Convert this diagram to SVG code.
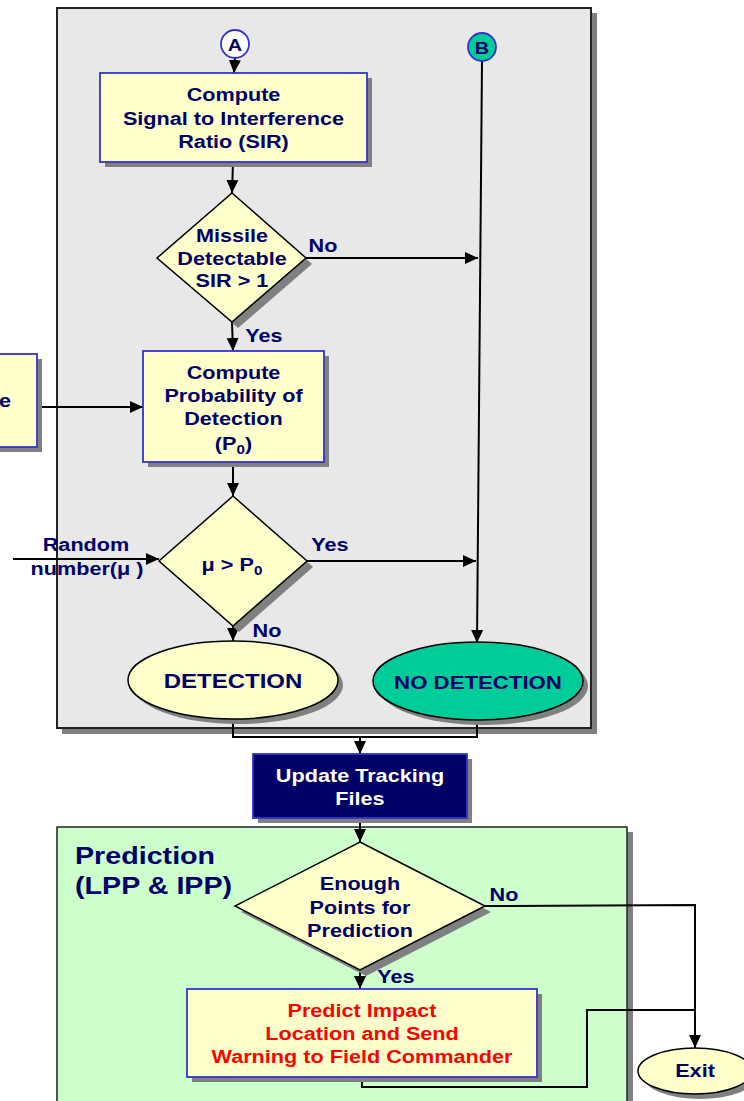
<svg xmlns="http://www.w3.org/2000/svg" width="744" height="1101" viewBox="0 0 744 1101">
  <defs>
    <marker id="arrow" markerUnits="userSpaceOnUse" markerWidth="14" markerHeight="12" refX="13" refY="6" orient="auto">
      <path d="M0,0 L13,6 L0,12 Z" fill="#000"/>
    </marker>
  </defs>
  <style>
    .panel { fill: #E8E8E8; stroke: #222; stroke-width: 2; }
    .green { fill: #CCFFCC; stroke: #222; stroke-width: 1.5; }
    .shadow { fill: #808080; }
    .box { fill: #FFFFCC; stroke: #3333CC; stroke-width: 1.8; }
    .dark { fill: #000066; stroke: #3333CC; stroke-width: 1.8; }
    .dia { fill: #FFFFCC; stroke: #000; stroke-width: 1.5; }
    .ell { fill: #FFFFCC; stroke: #000; stroke-width: 1.5; }
    .teal { fill: #00CC99; stroke: #000; stroke-width: 1.5; }
    .conn { fill: none; stroke: #000; stroke-width: 2; }
    .t { font-family: "Liberation Sans", Arial, sans-serif; font-weight: bold; font-size: 18.5px; fill: #000066; text-anchor: middle; }
    .w { fill: #FFFFFF; }
    .r { fill: #FF0000; }
    .l { text-anchor: start; }
    .big { font-size: 24.5px; }
  </style>

  <!-- detection panel -->
  <g id="detection-panel">
    <rect class="shadow" x="62" y="13" width="535" height="721"/>
    <rect class="panel" x="57" y="8" width="534" height="720"/>
  </g>

  <!-- prediction panel -->
  <g id="prediction-panel">
    <rect class="shadow" x="62" y="832" width="571" height="280"/>
    <rect class="green" x="57" y="827" width="570" height="280"/>
    <g transform="translate(75,0) scale(1.17,1)">
      <text class="t l big" x="0" y="864">Prediction</text>
      <text class="t l big" x="0" y="894">(LPP &amp; IPP)</text>
    </g>
  </g>

  <!-- connectors -->
  <g id="connectors">
    <line class="conn" x1="235" y1="58" x2="234" y2="73" marker-end="url(#arrow)"/>
    <line class="conn" x1="233" y1="162" x2="232" y2="193" marker-end="url(#arrow)"/>
    <line class="conn" x1="306" y1="258" x2="478" y2="258" marker-end="url(#arrow)"/>
    <line class="conn" x1="232" y1="322" x2="233" y2="351" marker-end="url(#arrow)"/>
    <line class="conn" x1="37" y1="407" x2="143" y2="407" marker-end="url(#arrow)"/>
    <line class="conn" x1="233" y1="462" x2="233" y2="496" marker-end="url(#arrow)"/>
    <line class="conn" x1="13" y1="559" x2="159" y2="559" marker-end="url(#arrow)"/>
    <line class="conn" x1="307" y1="561" x2="476" y2="561" marker-end="url(#arrow)"/>
    <line class="conn" x1="233" y1="626" x2="233" y2="641" marker-end="url(#arrow)"/>
    <line class="conn" x1="482" y1="61" x2="477" y2="643" marker-end="url(#arrow)"/>
    <polyline class="conn" points="233,719 233,737 477,737 477,720"/>
    <line class="conn" x1="360" y1="737" x2="360" y2="754" marker-end="url(#arrow)"/>
    <line class="conn" x1="360" y1="818" x2="360" y2="842" marker-end="url(#arrow)"/>
    <polyline class="conn" points="485,906 695,905 695,1048" marker-end="url(#arrow)"/>
    <line class="conn" x1="360" y1="970" x2="360" y2="989" marker-end="url(#arrow)"/>
    <polyline class="conn" points="362,1077 362,1087 587,1087 587,1010 695,1010"/>
  </g>

  <!-- connector labels -->
  <g id="labels">
    <g transform="translate(323,0) scale(1.17,1)"><text class="t" x="0" y="252">No</text></g>
    <g transform="translate(264,0) scale(1.17,1)"><text class="t" x="0" y="342">Yes</text></g>
    <g transform="translate(330,0) scale(1.17,1)"><text class="t" x="0" y="551">Yes</text></g>
    <g transform="translate(267,0) scale(1.17,1)"><text class="t" x="0" y="637">No</text></g>
    <g transform="translate(504,0) scale(1.17,1)"><text class="t" x="0" y="901">No</text></g>
    <g transform="translate(396,0) scale(1.17,1)"><text class="t" x="0" y="983">Yes</text></g>
    <g transform="translate(86,0) scale(1.17,1)"><text class="t" x="0" y="551">Random</text></g>
    <g transform="translate(87,0) scale(1.17,1)"><text class="t" x="0" y="575">number(μ )</text></g>
  </g>

  <g id="connector-a">
    <circle cx="235" cy="44" r="14" fill="#FFFFFF" stroke="#3333CC" stroke-width="1.8"/>
    <g transform="translate(235,0) scale(1.17,1)"><text class="t" x="0" y="51" style="font-size:17px">A</text></g>
  </g>

  <g id="connector-b">
    <circle cx="482" cy="47" r="14" fill="#00CC99" stroke="#3333CC" stroke-width="1.8"/>
    <g transform="translate(482,0) scale(1.17,1)"><text class="t" x="0" y="54" style="font-size:17px">B</text></g>
  </g>

  <g id="compute-sir">
    <rect class="shadow" x="105" y="78" width="267" height="89"/>
    <rect class="box" x="100" y="73" width="267" height="89"/>
    <g transform="translate(233.5,0) scale(1.17,1)">
      <text class="t" x="0" y="101">Compute</text>
      <text class="t" x="0" y="125">Signal to Interference</text>
      <text class="t" x="0" y="148">Ratio (SIR)</text>
    </g>
  </g>

  <g id="missile-detectable">
    <polygon class="shadow" points="238,199 312,264 238,328 164,264"/>
    <polygon class="dia" points="232,193 306,258 232,322 157,258"/>
    <g transform="translate(232,0) scale(1.17,1)">
      <text class="t" x="0" y="242">Missile</text>
      <text class="t" x="0" y="265">Detectable</text>
      <text class="t" x="0" y="287">SIR &gt; 1</text>
    </g>
  </g>

  <g id="side-input">
    <rect class="shadow" x="-5" y="359" width="47" height="93"/>
    <rect class="box" x="-10" y="354" width="47" height="93"/>
    <g transform="translate(11,0) scale(1.17,1)">
      <text class="t" x="0" y="407" style="text-anchor:end">e</text>
    </g>
  </g>

  <g id="compute-probability">
    <rect class="shadow" x="148" y="356" width="181" height="111"/>
    <rect class="box" x="143" y="351" width="181" height="111"/>
    <g transform="translate(233.5,0) scale(1.17,1)">
      <text class="t" x="0" y="379">Compute</text>
      <text class="t" x="0" y="402">Probability of</text>
      <text class="t" x="0" y="425">Detection</text>
      <text class="t" x="0" y="450">(P<tspan dy="4" style="font-size:13px">0</tspan><tspan dy="-4">)</tspan></text>
    </g>
  </g>

  <g id="mu-test">
    <polygon class="shadow" points="239,502 313,567 239,632 165,567"/>
    <polygon class="dia" points="233,496 307,561 233,626 159,561"/>
    <g transform="translate(232,0) scale(1.17,1)">
      <text class="t" x="0" y="571">μ &gt; P<tspan dy="4" style="font-size:13px">0</tspan></text>
    </g>
  </g>

  <g id="detection">
    <ellipse class="shadow" cx="238" cy="685" rx="105" ry="39"/>
    <ellipse class="ell" cx="233" cy="680" rx="105" ry="39"/>
    <g transform="translate(233,0) scale(1.17,1)">
      <text class="t" x="0" y="688" style="font-size:20.5px">DETECTION</text>
    </g>
  </g>

  <g id="no-detection">
    <ellipse class="shadow" cx="483" cy="686" rx="105" ry="39"/>
    <ellipse class="teal" cx="478" cy="681" rx="105" ry="39"/>
    <g transform="translate(478,0) scale(1.17,1)">
      <text class="t" x="0" y="689" style="font-size:19px">NO DETECTION</text>
    </g>
  </g>

  <g id="update-tracking">
    <rect class="shadow" x="258" y="759" width="214" height="64"/>
    <rect class="dark" x="253" y="754" width="214" height="64"/>
    <g transform="translate(360,0) scale(1.17,1)">
      <text class="t w" x="0" y="782">Update Tracking</text>
      <text class="t w" x="0" y="805">Files</text>
    </g>
  </g>

  <g id="enough-points">
    <polygon class="shadow" points="366,848 491,912 366,976 241,912"/>
    <polygon class="dia" points="360,842 485,906 360,970 235,906"/>
    <g transform="translate(360,0) scale(1.17,1)">
      <text class="t" x="0" y="890">Enough</text>
      <text class="t" x="0" y="914">Points for</text>
      <text class="t" x="0" y="937">Prediction</text>
    </g>
  </g>

  <g id="predict-impact">
    <rect class="shadow" x="192" y="994" width="350" height="88"/>
    <rect class="box" x="187" y="989" width="350" height="88"/>
    <g transform="translate(362,0) scale(1.17,1)">
      <text class="t r" x="0" y="1017">Predict Impact</text>
      <text class="t r" x="0" y="1040">Location and Send</text>
      <text class="t r" x="0" y="1063">Warning to Field Commander</text>
    </g>
  </g>

  <g id="exit">
    <ellipse class="shadow" cx="700" cy="1076" rx="57" ry="23"/>
    <ellipse class="ell" cx="695" cy="1071" rx="57" ry="23"/>
    <g transform="translate(695,0) scale(1.17,1)">
      <text class="t" x="0" y="1077">Exit</text>
    </g>
  </g>
</svg>
